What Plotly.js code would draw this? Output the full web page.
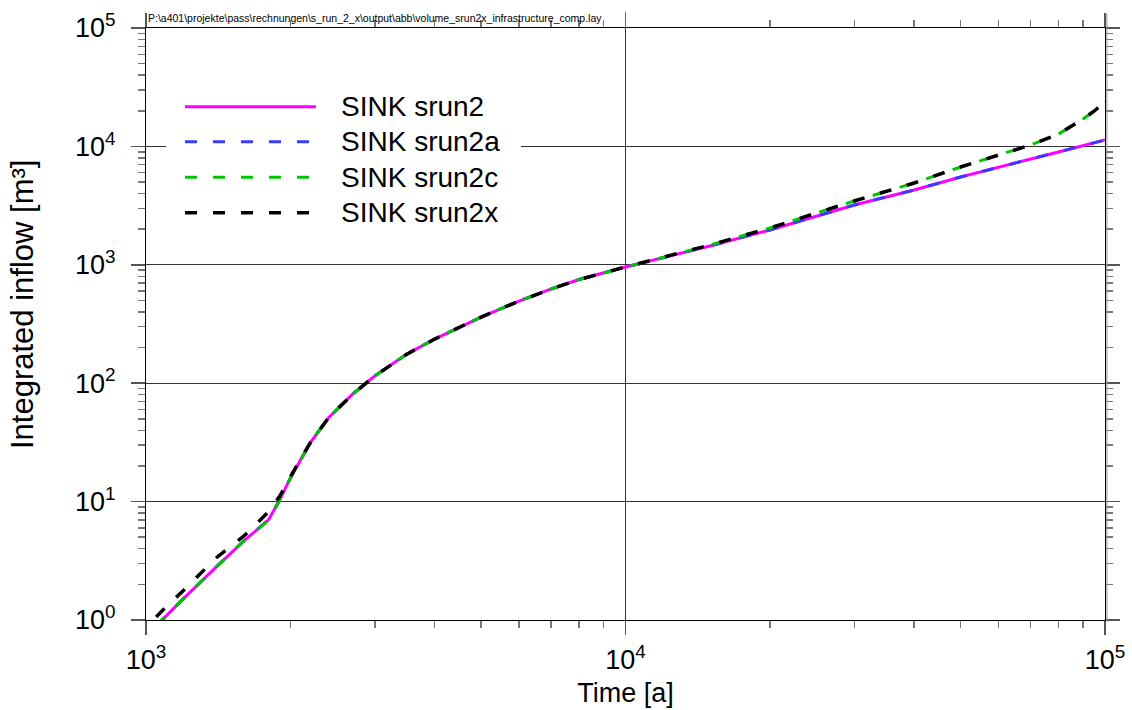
<!DOCTYPE html>
<html>
<head>
<meta charset="utf-8">
<script src="https://cdn.plot.ly/plotly-3.0.1.min.js"></script>
<style>
  html, body { margin: 0; padding: 0; background: #fff; }
  #chart { width: 1132px; height: 710px; }
</style>
</head>
<body>
<div id="chart"></div>
<script>
// ---- data ----
const time = [1050, 1100, 1200, 1400, 1600, 1800, 1900, 2000, 2200, 2400, 2700, 3000, 3500, 4000,
              5000, 6000, 7000, 8000, 10000, 15000, 20000, 30000, 40000, 50000, 60000, 70000,
              80000, 90000, 95000, 100000];

const srun2  = [0.89, 1.08, 1.53, 2.80, 4.65, 6.99, 10.3, 15.8, 31.3, 50.8, 81.1, 115, 176, 236,
                362, 494, 625, 751, 958, 1442, 1967, 3200, 4283, 5515, 6699, 7828,
                8968, 10080, 10680, 11330];

const srun2a = [0.89, 1.08, 1.53, 2.80, 4.65, 6.99, 10.3, 15.8, 31.3, 50.8, 81.1, 115, 176, 236,
                362, 494, 625, 751, 958, 1442, 1967, 3200, 4283, 5515, 6699, 7828,
                8968, 10080, 10680, 11330];

const srun2c = [0.89, 1.08, 1.53, 2.80, 4.65, 6.99, 10.3, 15.8, 31.3, 50.8, 81.1, 115, 176, 236,
                362, 494, 625, 751, 958, 1469, 2045, 3458, 4909, 6699, 8461, 10275,
                12724, 17036, 19910, 23714];

const srun2x = [1.06, 1.29, 1.79, 3.34, 5.12, 8.17, 11.1, 16.2, 31.3, 50.8, 81.1, 115, 176, 236,
                362, 494, 625, 751, 958, 1469, 2045, 3458, 4909, 6699, 8461, 10275,
                12724, 17036, 19910, 23714];

const seriesNames = ["SINK srun2", "SINK srun2a", "SINK srun2c", "SINK srun2x"];
const xTitle = "Time [a]";
const yTitle = "Integrated inflow [m³]";
const xTickVals = [1000, 10000, 100000];
const xTickText = ["10<sup>3</sup>", "10<sup>4</sup>", "10<sup>5</sup>"];
const yTickVals = [1, 10, 100, 1000, 10000, 100000];
const yTickText = ["10<sup>0</sup>", "10<sup>1</sup>", "10<sup>2</sup>", "10<sup>3</sup>", "10<sup>4</sup>", "10<sup>5</sup>"];
const xMinor = [2000,3000,4000,5000,6000,7000,8000,9000,20000,30000,40000,50000,60000,70000,80000,90000];
const yMinor = [2,3,4,5,6,7,8,9,20,30,40,50,60,70,80,90,200,300,400,500,600,700,800,900,
                2000,3000,4000,5000,6000,7000,8000,9000,20000,30000,40000,50000,60000,70000,80000,90000];
const pathText = "P:\\a401\\projekte\\pass\\rechnungen\\s_run_2_x\\output\\abb\\volume_srun2x_infrastructure_comp.lay";

// ---- styles ----
const FONT = 'Arial, "Liberation Sans", sans-serif';
const DASH = "12px,16px";
const styles = [
  {color: "#ff00ff", dash: "solid", width: 3},
  {color: "#3a3aff", dash: DASH, width: 3},
  {color: "#00c400", dash: DASH, width: 3},
  {color: "#000000", dash: DASH, width: 3.5}
];
const values = [srun2, srun2a, srun2c, srun2x];

const traces = values.map((v, i) => ({
  x: time, y: v, type: "scatter", mode: "lines", name: seriesNames[i],
  line: {color: styles[i].color, dash: styles[i].dash, width: styles[i].width},
  showlegend: false, hoverinfo: "x+y+name"
}));

// manual legend (long sample lines like the reference)
const legY = [0.8671, 0.8080, 0.7478, 0.6880];
const shapes = [
  {type: "rect", xref: "paper", yref: "paper", x0: 0.021, x1: 0.391, y0: 0.645, y1: 0.91,
   fillcolor: "#ffffff", line: {width: 0}, layer: "above"}
];
const annotations = [];
seriesNames.forEach((n, i) => {
  shapes.push({type: "line", xref: "paper", yref: "paper", x0: 0.0407, x1: 0.1773, y0: legY[i], y1: legY[i],
               line: {color: styles[i].color, dash: styles[i].dash, width: styles[i].width}, layer: "above"});
  annotations.push({xref: "paper", yref: "paper", x: 0.2013, y: legY[i], xanchor: "left", yanchor: "middle",
                    text: n, showarrow: false, font: {family: FONT, size: 28, color: "#000"}});
});
// small extensions above the frame
shapes.push({type: "line", xref: "x", yref: "paper", x0: 10000, x1: 10000, y0: 1, y1: 1.027,
             line: {color: "#666", width: 1}});
shapes.push({type: "line", xref: "paper", yref: "paper", x0: 1.002, x1: 1.002, y0: -0.003, y1: 1.025,
             line: {color: "#999", width: 1}});
annotations.push({xref: "paper", yref: "paper", x: 0, y: 1.017, xanchor: "left", yanchor: "middle",
                  text: pathText, showarrow: false, font: {family: FONT, size: 10.5, color: "#000"}});
// y-axis title (placed as in the reference, slightly above the plot centre)
annotations.push({xref: "paper", yref: "paper", x: -0.1293, y: 0.532, xanchor: "center", yanchor: "middle",
                  textangle: -90, text: yTitle, showarrow: false,
                  font: {family: FONT, size: 31, color: "#000"}});

const axisCommon = {
  type: "log", showline: true, linecolor: "#000", linewidth: 1, mirror: "allticks",
  ticks: "outside", ticklen: 14, tickwidth: 1.5, tickcolor: "#555",
  showgrid: true, gridcolor: "#333", gridwidth: 1, zeroline: false,
  tickfont: {family: FONT, size: 27, color: "#000"},
  minor: {tickmode: "array", ticks: "outside", ticklen: 7, tickwidth: 1.5, tickcolor: "#777", showgrid: false}
};

const layout = {
  width: 1132, height: 710,
  margin: {l: 146, r: 27, t: 28, b: 90, pad: 0},
  paper_bgcolor: "#fff", plot_bgcolor: "#fff",
  font: {family: FONT, color: "#000"},
  showlegend: false,
  xaxis: Object.assign({}, axisCommon, {
    range: [3, 5], tickmode: "array", tickvals: xTickVals, ticktext: xTickText,
    ticklabelstandoff: 2,
    minor: Object.assign({}, axisCommon.minor, {tickvals: xMinor}),
    title: {text: xTitle, font: {family: FONT, size: 27, color: "#000"}, standoff: 8}
  }),
  yaxis: Object.assign({}, axisCommon, {
    range: [0, 5], tickmode: "array", tickvals: yTickVals, ticktext: yTickText,
    ticklabelstandoff: 10,
    minor: Object.assign({}, axisCommon.minor, {tickvals: yMinor})
  }),
  shapes: shapes,
  annotations: annotations
};

Plotly.newPlot("chart", traces, layout, {staticPlot: true, displayModeBar: false});
</script>
</body>
</html>
